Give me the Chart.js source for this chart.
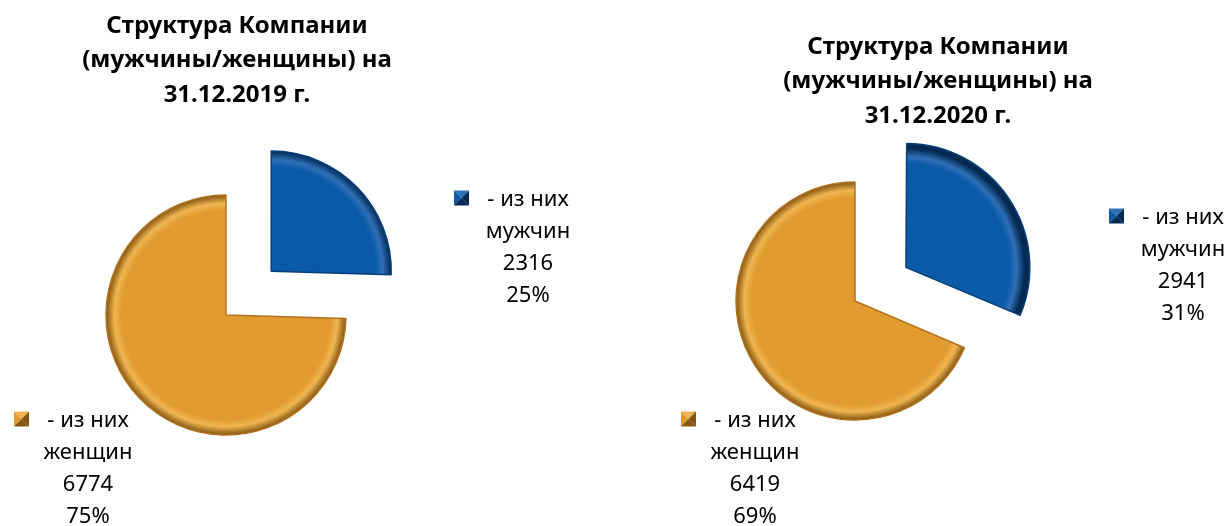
<!DOCTYPE html>
<html>
<head>
<meta charset="utf-8">
<script src="https://cdn.jsdelivr.net/npm/chart.js@4.4.1/dist/chart.umd.min.js"></script>
<style>
  html, body { margin: 0; padding: 0; background: #fff; }
  #wrap { position: relative; width: 1230px; height: 526px; overflow: hidden; }
  canvas { position: absolute; top: 0; }
</style>
</head>
<body>
<div id="wrap">
  <canvas id="pie2019" width="615" height="526" style="left:0"></canvas>
  <canvas id="pie2020" width="615" height="526" style="left:615px"></canvas>
</div>
<script>
// data
const categories = [['- из них', 'мужчин'], ['- из них', 'женщин']];
const values2019 = [2316, 6774];
const values2020 = [2941, 6419];
const title2019 = ['Структура Компании', '(мужчины/женщины) на', '31.12.2019 г.'];
const title2020 = ['Структура Компании', '(мужчины/женщины) на', '31.12.2020 г.'];

const sliceColors = [
  { base: '#0a5aa8', light: '#2f6fb6', dark: '#042a52' },
  { base: '#e29b30', light: '#efb550', dark: '#865511' },
];

// the arc is drawn under a translate, so the gradient stays on the pie centre
const sliceFill = (radius) => (ctx) => {
  const chart = ctx.chart;
  const area = chart.chartArea;
  const c = sliceColors[ctx.dataIndex];
  if (!area) return c.base;
  const cx = (area.left + area.right) / 2;
  const cy = (area.top + area.bottom) / 2;
  const g = chart.ctx.createRadialGradient(cx, cy, 0, cx, cy, radius);
  g.addColorStop(0, c.base);
  g.addColorStop(0.87, c.base);
  g.addColorStop(0.93, c.light);
  g.addColorStop(1, c.dark);
  return g;
};

const drawMarker = (ctx, x, y, c) => {
  const s = 15;
  const t = y - s / 2;
  const tri = (pts, color) => {
    ctx.beginPath();
    ctx.moveTo(pts[0], pts[1]);
    ctx.lineTo(pts[2], pts[3]);
    ctx.lineTo(pts[4], pts[5]);
    ctx.closePath();
    ctx.fillStyle = color;
    ctx.fill();
  };
  const mx = x + s / 2, my = t + s / 2;
  tri([x, t, x + s, t, mx, my], c.light);
  tri([x, t, x, t + s, mx, my], c.base);
  tri([x + s, t, x + s, t + s, mx, my], c.dark);
  tri([x, t + s, x + s, t + s, mx, my], c.dark);
};

// titles and data labels drawn on top of the pie
const pieText = {
  id: 'pieText',
  afterDraw(chart, args, opts) {
    const ctx = chart.ctx;
    ctx.save();
    ctx.textAlign = 'center';
    ctx.textBaseline = 'middle';
    ctx.fillStyle = '#000';
    ctx.font = "bold 24px 'Noto Sans'";
    opts.title.forEach((line, i) => {
      ctx.fillText(line, opts.titleX, opts.titleY + i * 34.5);
    });

    const data = chart.data.datasets[0].data;
    const total = data.reduce((a, b) => a + b, 0);
    ctx.font = "22px 'Noto Sans'";
    opts.labels.forEach((pos, i) => {
      const lines = [...categories[i], String(data[i]), Math.round(data[i] / total * 100) + '%'];
      ctx.fillStyle = '#000';
      lines.forEach((line, k) => {
        ctx.fillText(line, pos.x, pos.y + k * 32);
      });
      drawMarker(ctx, pos.x - 74, pos.y - 2, sliceColors[i]);
    });
    ctx.restore();
  },
};

const makePie = (id, values, title, cfg) => {
  const canvas = document.getElementById(id);
  new Chart(canvas.getContext('2d'), {
    type: 'pie',
    data: {
      labels: categories.map((c) => c.join(' ')),
      datasets: [
        {
          data: values,
          radius: cfg.radius,
          // chart.js moves an arc by offset / 4 along its middle angle
          offset: [cfg.explode * 4, 0],
          backgroundColor: sliceFill(cfg.radius),
          borderColor: ['#06407a', '#b07420'],
          borderWidth: 1.5,
          clip: false,
        },
      ],
    },
    options: {
      responsive: false,
      animation: false,
      events: [],
      layout: {
        padding: { left: 0, right: 615 - 2 * cfg.cx, top: 2 * cfg.cy - 526, bottom: 0 },
      },
      plugins: {
        legend: { display: false },
        tooltip: { enabled: false },
        pieText: {
          title: title,
          titleX: cfg.titleX,
          titleY: cfg.titleY,
          labels: cfg.labels,
        },
      },
    },
    plugins: [pieText],
  });
};

makePie('pie2019', values2019, title2019, {
  cx: 226, cy: 315, radius: 120, explode: 63,
  titleX: 237, titleY: 26,
  labels: [{ x: 528, y: 200 }, { x: 88, y: 421 }],
});

makePie('pie2020', values2020, title2020, {
  cx: 240, cy: 301, radius: 119, explode: 61,
  titleX: 323, titleY: 47,
  labels: [{ x: 568, y: 218 }, { x: 140, y: 421 }],
});
</script>
</body>
</html>
